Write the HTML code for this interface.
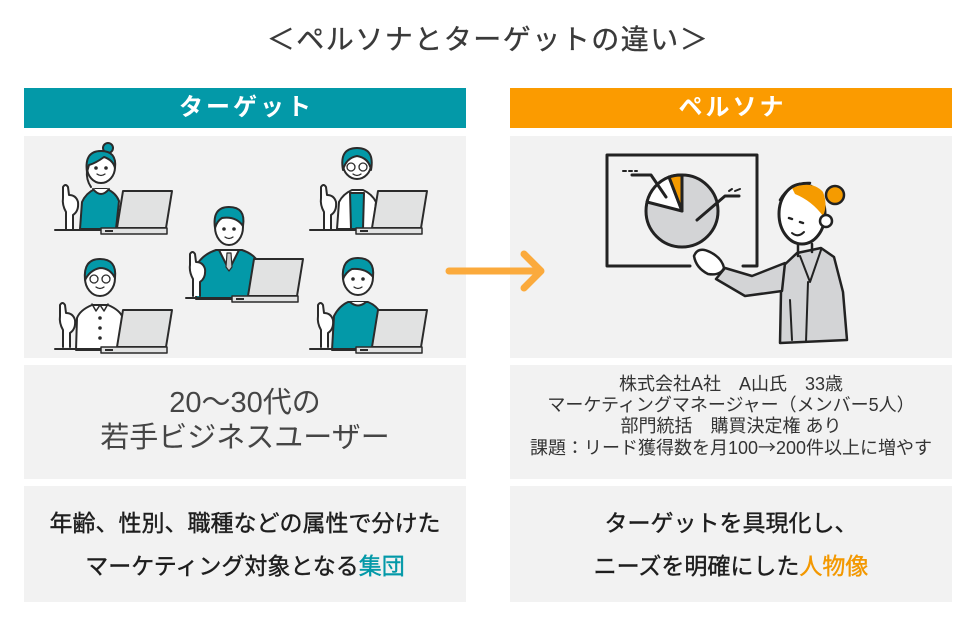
<!DOCTYPE html>
<html><head><meta charset="utf-8">
<style>
*{margin:0;padding:0;box-sizing:border-box}
html,body{width:976px;height:626px;background:#fff;overflow:hidden}
body{position:relative;font-family:"Liberation Sans","Noto Sans CJK JP",sans-serif}
.a{position:absolute}
.title{left:0;width:976px;top:22px;height:36px;line-height:36px;text-align:center;font-size:28px;color:#3a3a3a;letter-spacing:1.5px;white-space:nowrap;-webkit-text-stroke:0.35px #3a3a3a}
.hdr{top:88px;height:40px;line-height:39px;text-align:center;color:#fff;font-weight:bold;font-size:24px;letter-spacing:3px;padding-left:3px;white-space:nowrap}
.p{background:#f2f2f2}
.t2l{left:24px;width:442px;top:386px;line-height:35px;font-size:29px;color:#454545;text-align:center;white-space:nowrap}
.t2r{left:510px;width:442px;top:374px;line-height:21px;font-size:18px;color:#333;text-align:center;white-space:nowrap}
.t3{top:502px;width:442px;line-height:43px;font-size:23px;color:#1e1e1e;text-align:center;white-space:nowrap;-webkit-text-stroke:0.4px #1e1e1e}
.cj{font-family:"Noto Sans CJK JP",sans-serif}
svg{position:absolute;left:0;top:0}
</style></head><body>
<div class="a title">＜ペルソナとターゲットの違い＞</div>
<div class="a hdr" style="left:24px;width:442px;background:#0399a8">ターゲット</div>
<div class="a hdr" style="left:510px;width:442px;background:#fb9b00">ペルソナ</div>

<div class="a p" style="left:24px;top:136px;width:442px;height:222px"></div>
<div class="a p" style="left:510px;top:136px;width:442px;height:222px"></div>
<div class="a p" style="left:24px;top:365px;width:442px;height:114px"></div>
<div class="a p" style="left:510px;top:365px;width:442px;height:114px"></div>
<div class="a p" style="left:24px;top:486px;width:442px;height:116px"></div>
<div class="a p" style="left:510px;top:486px;width:442px;height:116px"></div>

<div class="a t2l">20〜30代の<br>若手ビジネスユーザー</div>
<div class="a t2r">株式会社A社　A山氏　33歳<br>マーケティングマネージャー（メンバー5人）<br>部門統括　購買決定権 あり<br>課題：リード獲得数を月100<span class="cj">→</span>200件以上に増やす</div>
<div class="a t3" style="left:24px">年齢、性別、職種などの属性で分けた<br>マーケティング対象となる<span style="color:#0399a8;-webkit-text-stroke-color:#0399a8">集団</span></div>
<div class="a t3" style="left:510px">ターゲットを具現化し、<br>ニーズを明確にした<span style="color:#f39800;-webkit-text-stroke-color:#f39800">人物像</span></div>

<svg width="976" height="626" viewBox="0 0 976 626">
<defs>
<g id="d">
<line x1="55" y1="230" x2="102" y2="230"/>
<polygon points="123,191 172,191 166,228 117,228" fill="#e1e2e2"/>
<rect x="101" y="228" width="66" height="6" fill="#e1e2e2" stroke-width="1.5"/>
<rect x="105" y="230" width="8" height="2" fill="#2b2b2b" stroke="none"/>
</g>
<g id="h">
<path d="M66,229 L66,212 Q62,205 63,198 L63,187 Q65.5,183 68,187 L69,195 Q76,195 78,202 Q79,211 73,215 L73,229" fill="#fff"/>
</g>
</defs>
<g stroke="#2b2b2b" stroke-width="2" fill="none" stroke-linecap="round" stroke-linejoin="round">
<!-- P1 -->
<path d="M80,229 L82,202 Q86,193 95,189 L107,189 Q116,193 119,201 L116,229 Z" fill="#0399a8"/>
<path d="M93,189 Q101,199 109,189" fill="#fff"/>
<circle cx="108" cy="148" r="5" fill="#0399a8"/>
<ellipse cx="101" cy="167" rx="14" ry="16" fill="#fff"/>
<path d="M87,172 Q84,151 101,151 Q117,151 115,168 Q113,160 104,157 Q96,163 89,165 Z" fill="#0399a8"/>
<path d="M87,170 Q86,180 91,187" />
<circle cx="96" cy="168" r="0.8" fill="#2b2b2b"/><circle cx="106" cy="168" r="0.8" fill="#2b2b2b"/>
<path d="M97,174 Q101,177 105,174" stroke-width="1.3"/>
<use href="#d"/>
<use href="#h"/>

<!-- P2 -->
<path d="M337,229 L339,202 Q343,194 352,190 L363,190 Q372,194 376,202 L373,229 Z" fill="#fff"/>
<path d="M350,193 L364,193 L363,229 L351,229 Z" fill="#0399a8"/>
<ellipse cx="357" cy="164" rx="14" ry="15" fill="#fff"/>
<path d="M343,170 Q339,148 357,148 Q375,148 371,170 Q369,158 357,156 Q346,158 343,170 Z" fill="#0399a8"/>
<circle cx="351" cy="167" r="4" stroke-width="1.3"/><circle cx="363" cy="167" r="4" stroke-width="1.3"/>
<path d="M353,174 Q357,177 361,174" stroke-width="1.3"/>
<use href="#d" transform="translate(255,0)"/>
<use href="#h" transform="translate(258,0)"/>

<!-- P3 -->
<path d="M196,299 L198,263 Q204,254 216,250 L242,250 Q254,254 259,263 L257,299 Z" fill="#0399a8"/>
<path d="M219,250 L229,270 L239,250 Z" fill="#fff"/>
<path d="M227,253 L231,253 L232,267 L229,271 L226,267 Z" fill="#ccc" stroke-width="1.2"/>
<ellipse cx="229" cy="227" rx="14" ry="18" fill="#fff"/>
<path d="M215,228 Q212,207 229,207 Q246,207 243,226 Q236,216 222,218 Q217,221 215,228 Z" fill="#0399a8"/>
<circle cx="224" cy="229" r="0.8" fill="#2b2b2b"/><circle cx="234" cy="229" r="0.8" fill="#2b2b2b"/>
<path d="M225,237 Q229,240 233,237" stroke-width="1.3"/>
<use href="#d" transform="translate(131,68)"/>
<use href="#h" transform="translate(127,67)"/>

<!-- P4 -->
<path d="M76,350 L77,318 Q80,310 92,305 L108,305 Q120,310 123,318 L120,350 Z" fill="#fff"/>
<path d="M92,304 L96,311 L100,305 L104,311 L108,304" stroke-width="1.5"/>
<circle cx="100" cy="318" r="0.8" fill="#2b2b2b"/><circle cx="100" cy="328" r="0.8" fill="#2b2b2b"/><circle cx="100" cy="338" r="0.8" fill="#2b2b2b"/>
<ellipse cx="100" cy="278" rx="15" ry="18" fill="#fff"/>
<path d="M85,280 Q83,259 100,259 Q117,259 115,278 Q110,268 100,268 Q90,270 85,280 Z" fill="#0399a8"/>
<circle cx="94" cy="279" r="4" stroke-width="1.3"/><circle cx="106" cy="279" r="4" stroke-width="1.3"/>
<path d="M96,287 Q100,290 104,287" stroke-width="1.3"/>
<use href="#d" transform="translate(0,119)"/>
<use href="#h" transform="translate(-3,118)"/>

<!-- P5 -->
<path d="M332,350 L334,316 Q339,306 348,302 L368,302 Q378,306 382,316 L379,350 Z" fill="#0399a8"/>
<path d="M350,302 Q358,309 366,302" fill="#fff"/>
<ellipse cx="358" cy="277" rx="15" ry="18" fill="#fff"/>
<path d="M343,279 Q341,258 358,258 Q375,258 373,277 Q366,268 352,269 Q346,272 343,279 Z" fill="#0399a8"/>
<circle cx="353" cy="279" r="0.8" fill="#2b2b2b"/><circle cx="363" cy="279" r="0.8" fill="#2b2b2b"/>
<path d="M354,287 Q358,290 362,287" stroke-width="1.3"/>
<use href="#d" transform="translate(255,119)"/>
<use href="#h" transform="translate(255,118)"/>
</g>

<!-- arrow -->
<path d="M449,271 L539,271 M524,254 L541,271 L524,288" stroke="#fbaa3c" stroke-width="7" fill="none" stroke-linecap="round" stroke-linejoin="round"/>

<!-- persona -->
<g stroke="#222" stroke-width="3" fill="none" stroke-linecap="round" stroke-linejoin="round">
<path d="M690,266 L607,266 L607,155 L757,155 L757,266 L743,266"/>
<circle cx="682" cy="211" r="36" fill="#d3d4d6"/>
<path d="M682,211 L647,202 A36,36 0 0 1 669,177 Z" fill="#fff"/>
<path d="M682,211 L669,177 A36,36 0 0 1 682,175 Z" fill="#f59b00"/>
<path d="M623,171 L626,171 M629,171 L632,171 M635,171 L637,171" stroke-width="2"/>
<path d="M632,175 L651,175 L666,197"/>
<path d="M729,191 L732,189 M735,191 L740,189" stroke-width="2"/>
<path d="M739,196 L725,196 L697,220"/>
<!-- body -->
<path d="M781,268 L797,253 L821,248 L834,257 L843,292 L847,340 L780,343 L781,292 Z" fill="#d3d4d6" stroke-width="2.5"/>
<path d="M800,256 L810,282 L821,250" stroke-width="2"/>
<path d="M808,282 L806,342 M790,300 L792,340" stroke-width="2"/>
<!-- arm -->
<path d="M785,263 L752,276 L725,268 L716,279 L745,296 L782,291 Z" fill="#d3d4d6" stroke-width="2.5"/>
<!-- hand -->
<path d="M694,256 Q698,246 710,252 Q722,258 724,268 Q720,276 708,274 Q696,268 694,256 Z" fill="#fff" stroke-width="2.5"/>
<!-- head -->
<path d="M798,245 L798,256 M812,244 L812,252" stroke-width="2.5"/>
<ellipse cx="802" cy="214" rx="23" ry="30" fill="#fff"/>
<circle cx="835" cy="195" r="9" fill="#f59b00" stroke-width="2.5"/>
<path d="M792,188 Q812,180 823,192 Q828,205 823,216 Q812,201 795,194 Z" fill="#f59b00" stroke="none"/>
<path d="M780,200 Q790,182 810,183" stroke-width="2.5"/>
<circle cx="826" cy="221" r="6" fill="#fff" stroke-width="2.5"/>
<path d="M789,218 L792,219 M800,222 L803,223" stroke-width="2.5"/>
<path d="M792,233 Q798,238 804,232" stroke-width="2"/>
</g>
</svg>
</body></html>
